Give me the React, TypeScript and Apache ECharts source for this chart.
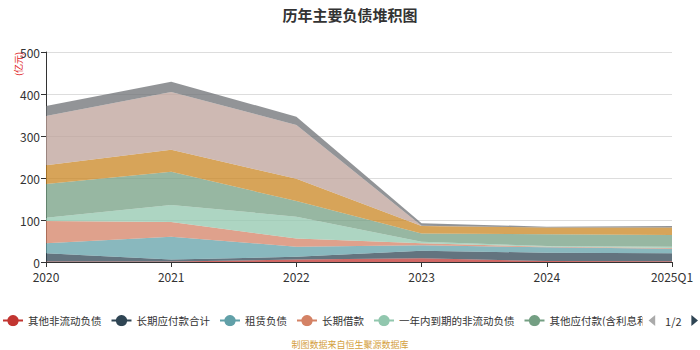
import React, { useEffect, useRef } from "react";
import * as echarts from "echarts";

const categories = ["2020", "2021", "2022", "2023", "2024", "2025Q1"];
const seriesNames = [
  "其他非流动负债",
  "长期应付款合计",
  "租赁负债",
  "长期借款",
  "一年内到期的非流动负债",
  "其他应付款(含利息和股利)",
  "应付票据及应付账款",
  "合同负债",
  "短期借款",
];
const otherNonCurrent = [1, 1, 6, 8.7, 2.4, 2];
const longTermPayable = [19.6, 5, 6.5, 18.3, 19.6, 18.6];
const leaseLiab = [24, 54, 24, 13, 13, 11];
const longTermLoan = [53, 35, 19.5, 4.4, 1.5, 1.5];
const dueWithinYear = [8, 41, 52, 3.6, 1.5, 3.5];
const otherPayable = [80, 79, 37, 20, 28, 27.5];
const notesPayable = [45, 52, 53, 17.7, 16, 18];
const contractLiab = [117, 138, 128, 0.5, 0, 0];
const shortLoan = [24, 24, 20, 6.3, 2, 3.7];
const seriesValues = [
  otherNonCurrent,
  longTermPayable,
  leaseLiab,
  longTermLoan,
  dueWithinYear,
  otherPayable,
  notesPayable,
  contractLiab,
  shortLoan,
];
const colors = ["#c23531", "#2f4554", "#61a0a8", "#d48265", "#91c7ae", "#749f83", "#ca8622", "#bda29a", "#6e7074"];
const yTicks = { min: 0, max: 500, interval: 100 };

const FONT = "'Noto Sans CJK SC', 'Noto Sans', sans-serif";

export default function App() {
  const ref = useRef<HTMLDivElement>(null);
  useEffect(() => {
    if (!ref.current) return;
    const chart = echarts.init(ref.current, undefined, { renderer: "svg" });
    chart.setOption({
      animation: false,
      color: colors,
      textStyle: { fontFamily: FONT },
      title: {
        text: "历年主要负债堆积图",
        left: "center",
        top: 2,
        textStyle: { fontSize: 15, fontWeight: "bold", color: "#333", fontFamily: FONT },
      },
      grid: { left: 46, right: 28, top: 52, bottom: 88 },
      legend: {
        type: "scroll",
        top: 315,
        left: 0,
        width: 696,
        padding: [0, 2, 0, 2],
        itemWidth: 20,
        itemHeight: 14,
        itemGap: 9,
        lineStyle: { width: 2 },
        textStyle: { fontSize: 10.5, color: "#333", fontFamily: FONT },
        pageIconColor: "#2f4554",
        pageIconInactiveColor: "#aaa",
        pageIconSize: 11,
        pageButtonItemGap: 5,
        pageButtonGap: 6,
        pageTextStyle: { fontSize: 11, color: "#333" },
        data: seriesNames,
      },
      graphic: [
        {
          type: "text",
          left: "center",
          top: 340,
          style: { text: "制图数据来自恒生聚源数据库", fill: "#d4a040", fontSize: 9, fontFamily: FONT },
        },
        {
          type: "text",
          x: 14,
          y: 76,
          rotation: Math.PI / 2,
          style: { text: "(亿元)", fill: "#e02020", fontSize: 9, fontFamily: FONT },
        },
      ],
      xAxis: {
        type: "category",
        data: categories,
        boundaryGap: false,
        axisLine: { lineStyle: { color: "#333" } },
        axisTick: { show: true, lineStyle: { color: "#333" } },
        axisLabel: { color: "#333", fontSize: 12, margin: 8 },
      },
      yAxis: {
        type: "value",
        min: yTicks.min,
        max: yTicks.max,
        interval: yTicks.interval,
        axisLine: { show: true, lineStyle: { color: "#333" } },
        axisTick: { show: true, lineStyle: { color: "#333" } },
        axisLabel: { color: "#333", fontSize: 12, margin: 6 },
        splitLine: { lineStyle: { color: "#ddd" } },
      },
      series: seriesNames.map((name, i) => ({
        name,
        type: "line",
        stack: "total",
        data: seriesValues[i],
        symbol: "circle",
        symbolSize: 8,
        showSymbol: false,
        lineStyle: { width: 0 },
        areaStyle: { opacity: 0.75 },
      })),
    });
    return () => chart.dispose();
  }, []);
  return <div ref={ref} style={{ width: 700, height: 350, position: "absolute", left: 0, top: 0 }} />;
}
